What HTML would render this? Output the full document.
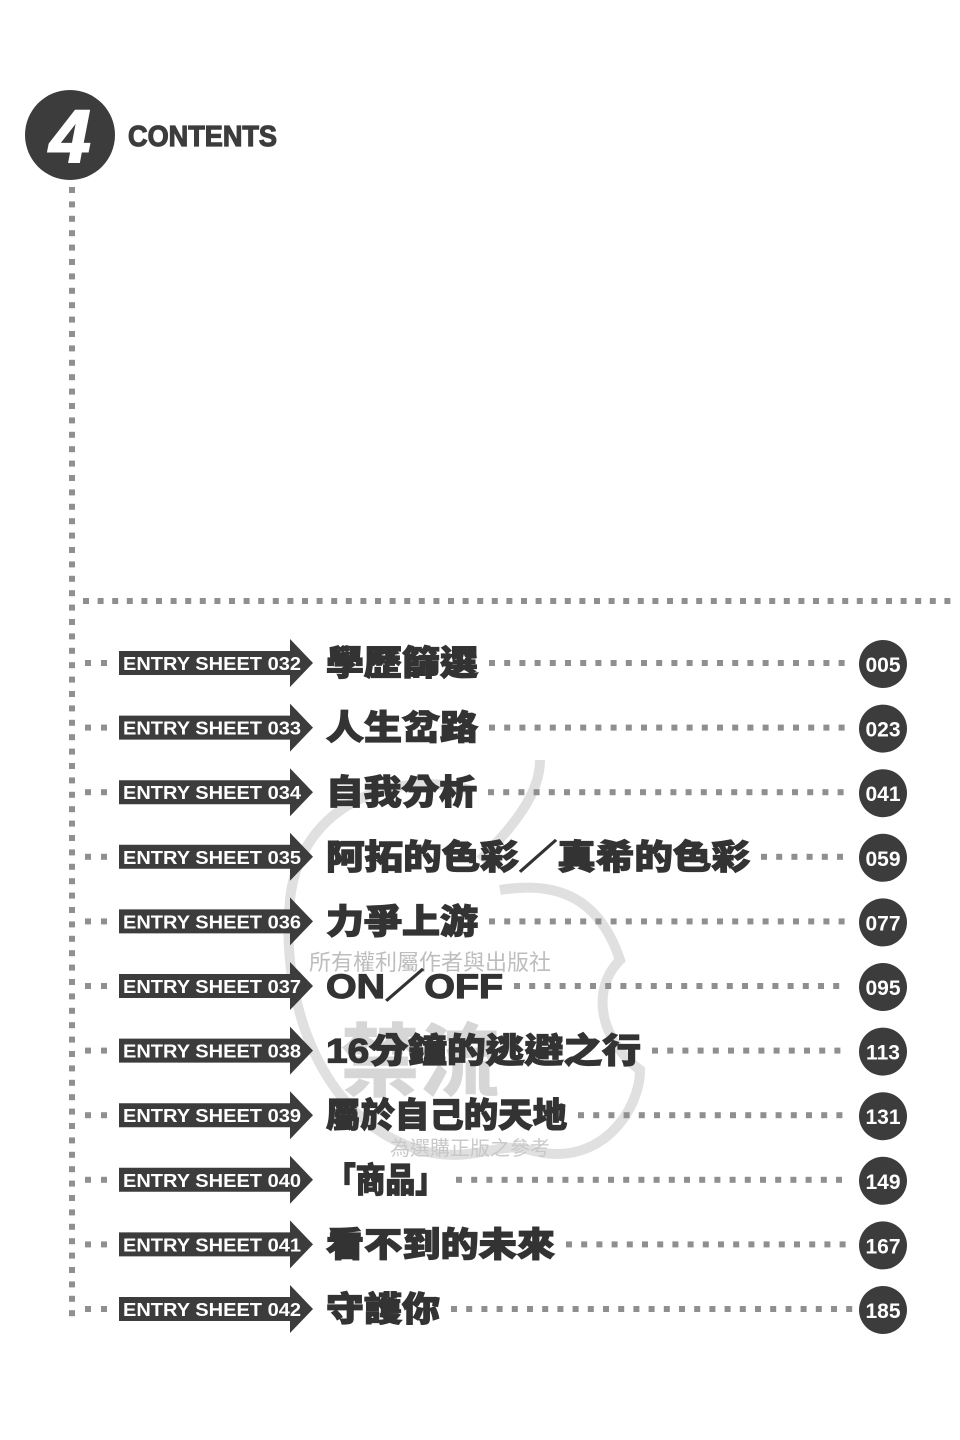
<!DOCTYPE html>
<html><head><meta charset="utf-8"><style>
html,body{margin:0;padding:0;background:#fff;}
body{width:960px;height:1440px;overflow:hidden;}
svg{display:block}
.t{font-family:"Liberation Sans","Noto Sans CJK TC","WenQuanYi Zen Hei",sans-serif;font-weight:900;}
</style></head><body>
<svg id="s" width="960" height="1440" viewBox="0 0 960 1440" xmlns="http://www.w3.org/2000/svg">
<g fill="none" stroke="#d8d8d8" stroke-width="10" opacity="0.8">
<path d="M470 790 C400 770 300 800 290 900 C280 1000 320 1120 420 1150 C470 1165 500 1140 530 1150 C600 1170 640 1110 640 1070 C600 1040 590 990 620 960 C600 900 560 880 500 890"/>
<path d="M480 860 C520 820 540 790 540 760"/>
</g>
<text x="430" y="970" class="t" font-size="22" fill="#bdbdbd" text-anchor="middle" style="font-weight:400">所有權利屬作者與出版社</text>
<text x="470" y="1155" class="t" font-size="20" fill="#c8c8c8" text-anchor="middle" style="font-weight:400">為選購正版之參考</text>
<text x="420" y="1090" class="t" font-size="80" fill="#d6d6d6" text-anchor="middle">禁流</text>
<circle cx="70" cy="135" r="45" fill="#3c3c3c"/>
<text x="70" y="162" class="t" font-size="74" fill="#fff" text-anchor="middle" font-style="italic" stroke="#fff" stroke-width="2">4</text>
<text x="128" y="146" class="t" font-size="29" fill="#3c3c3c" stroke="#3c3c3c" stroke-width="1.2" textLength="149" lengthAdjust="spacingAndGlyphs">CONTENTS</text>
<g id="dots" fill="#8f8f8f"></g>
<g id="rows"></g>
</svg>
<script>
var ns="http://www.w3.org/2000/svg",d=document.getElementById('dots'),r=document.getElementById('rows');
function dot(x,y){var e=document.createElementNS(ns,'rect');e.setAttribute('x',x-3);e.setAttribute('y',y-3);e.setAttribute('width',6);e.setAttribute('height',6);d.appendChild(e);}
for(var y=190;y<=1320;y+=14.4)dot(72,y);
for(var x=86;x<960;x+=14.6)dot(x,601);
var rows=[["032","學歷篩選",478,"005"],["033","人生岔路",478,"023"],["034","自我分析",477,"041"],["035","阿拓的色彩／真希的色彩",750,"059"],["036","力爭上游",478,"077"],["037","ON／OFF",503,"095"],["038","16分鐘的逃避之行",641,"113"],["039","屬於自己的天地",567,"131"],["040","「商品」",445,"149"],["041","看不到的未來",555,"167"],["042","守護你",440,"185"]];
function el(t,a,txt){var e=document.createElementNS(ns,t);for(var k in a)e.setAttribute(k,a[k]);if(txt)e.textContent=txt;r.appendChild(e);return e;}
rows.forEach(function(w,i){var cy=663+i*64.6;
dot(88,cy);dot(104,cy);
for(var x=w[2]+14;x<850;x+=15.2)dot(x,cy);
el('path',{d:"M119 "+(cy-12)+"H290V"+(cy-24)+"L313 "+cy+"L290 "+(cy+24)+"V"+(cy+12)+"H119Z",fill:"#3c3c3c"});
el('text',{x:123,y:cy+7,'class':'t','font-size':18,fill:'#fff',textLength:178,lengthAdjust:'spacingAndGlyphs'},"ENTRY SHEET "+w[0]);
el('text',{x:326,y:cy+12,'class':'t','font-size':34,fill:'#333',stroke:'#333','stroke-width':1.2,textLength:w[2]-326,lengthAdjust:'spacingAndGlyphs'},w[1]);
el('circle',{cx:883,cy:cy+1,r:24,fill:'#3c3c3c'});
el('text',{x:883,y:cy+9,'class':'t','font-size':21,fill:'#fff','text-anchor':'middle'},w[3]);
});
</script>
</body></html>
